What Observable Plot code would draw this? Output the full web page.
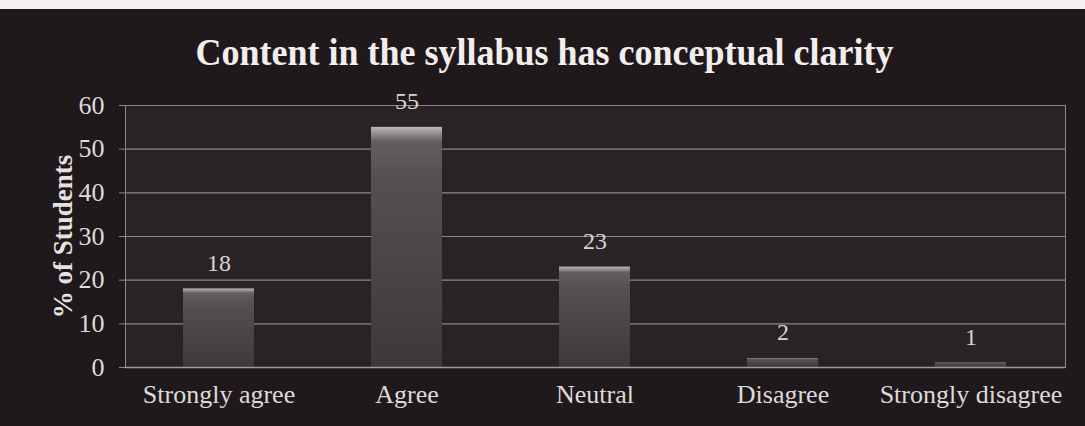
<!DOCTYPE html>
<html>
<head>
<meta charset="utf-8">
<script src="https://cdn.jsdelivr.net/npm/d3@7"></script>
<script src="https://cdn.jsdelivr.net/npm/@observablehq/plot@0.6"></script>
<style>
  html, body { margin: 0; padding: 0; background: #f3f1f1; }
  #wrap { position: absolute; left: 0; top: 9px; width: 1085px; height: 417px; background: #1f191b; overflow: hidden; }
  #title { position: absolute; left: 0; top: 0; width: 1085px; height: 86px; text-align: center;
           font-family: "Liberation Serif", "Times New Roman", serif; font-weight: bold; font-size: 36px;
           color: #f2eeee; line-height: 86px; margin-left: 2px; transform: scaleY(1.06); }
  #chart { position: absolute; left: 0; top: 71px; }
</style>
</head>
<body>
<div id="wrap">
  <div id="title">Content in the syllabus has conceptual clarity</div>
  <div id="chart"></div>
</div>
<script>
const categories = ["Strongly agree", "Agree", "Neutral", "Disagree", "Strongly disagree"];
const values = [18, 55, 23, 2, 1];
const yTicks = [0, 10, 20, 30, 40, 50, 60];
const yLabel = "% of Students";

const data = categories.map((c, i) => ({cat: c, v: values[i]}));

const chart = Plot.plot({
  width: 1085,
  height: 346,
  marginLeft: 125,
  marginRight: 20,
  marginTop: 25,
  marginBottom: 59,
  style: {background: "transparent", color: "#dedada", fontFamily: "'Liberation Serif', 'Times New Roman', serif", fontSize: "24px"},
  x: {domain: categories, paddingInner: 0.62, paddingOuter: 0.31, align: 0.5, label: null},
  y: {domain: [0, 60], label: null},
  marks: [
    Plot.frame({fill: "#2a2325", stroke: null}),
    Plot.gridY(yTicks, {stroke: "#8d8788", strokeOpacity: 1, strokeWidth: 1.2}),
    Plot.frame({anchor: "left", stroke: "#8d8788"}),
    Plot.frame({anchor: "right", stroke: "#8d8788"}),
    Plot.axisY(yTicks, {tickSize: 6, tickPadding: 15, stroke: "#8d8788", fill: "#dedada", fontSize: 26, label: null}),
    Plot.axisX({tickSize: 0, tickPadding: 17, fill: "#dedada", fontSize: 26, label: null}),
    Plot.barY(data, {x: "cat", y: "v", fill: "url(#barGrad)"}),
    Plot.text(data, {x: "cat", y: "v", text: d => String(d.v), dy: -26, fill: "#d8d4d4", fontSize: 24}),
    Plot.ruleY([0], {stroke: "#a09a9b", strokeWidth: 1.5}),
    Plot.text([yLabel], {frameAnchor: "left", textAnchor: "middle", rotate: -90, dx: -62, fill: "#e6e2e2", fontSize: 27, fontWeight: "bold"})
  ]
});

d3.select(chart).insert("defs", ":first-child").html(`
  <linearGradient id="barGrad" x1="0" y1="0" x2="0" y2="1">
    <stop offset="0%" stop-color="#bdb8b8"/>
    <stop offset="2.5%" stop-color="#989293"/>
    <stop offset="6%" stop-color="#655e60"/>
    <stop offset="20%" stop-color="#575053"/>
    <stop offset="100%" stop-color="#3f383b"/>
  </linearGradient>`);

document.getElementById("chart").append(chart);
</script>
</body>
</html>
